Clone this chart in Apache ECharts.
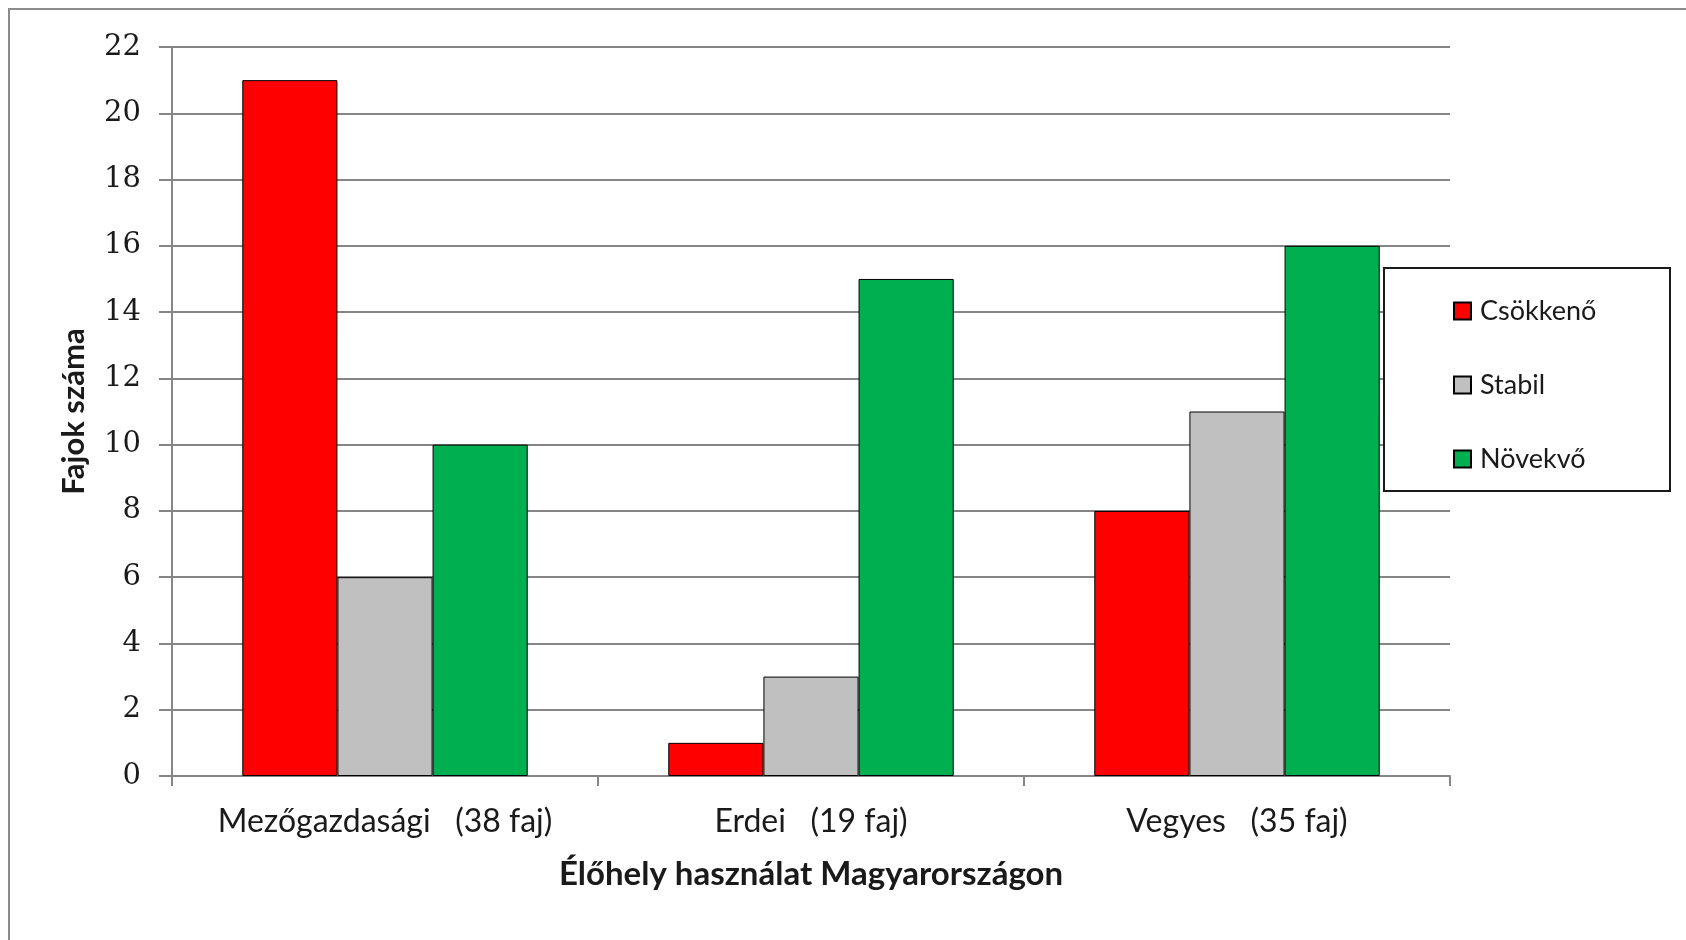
<!DOCTYPE html>
<html>
<head>
<meta charset="utf-8">
<script src="https://cdn.jsdelivr.net/npm/echarts@6/dist/echarts.min.js"></script>
<style>
  html, body { margin: 0; padding: 0; background: #ffffff; }
  #chart { width: 1686px; height: 940px; }
</style>
</head>
<body>
<div id="chart"></div>
<script>
// Habitat use categories and species counts per population trend
const categories = ['Mezőgazdasági   (38 faj)', 'Erdei   (19 faj)', 'Vegyes   (35 faj)'];
const seriesNames = ['Csökkenő', 'Stabil', 'Növekvő'];
const decreasing = [21, 1, 8];
const stable = [6, 3, 11];
const increasing = [10, 15, 16];
const yTicks = { min: 0, max: 22, step: 2 };

const sans = 'Lato, "Noto Sans", sans-serif';
const serif = '"DejaVu Serif", "Liberation Serif", serif';
const colors = ['#ff0000', '#c0c0c0', '#00b050'];

function barSeries(name, data, color) {
  return {
    name: name,
    type: 'bar',
    data: data,
    barGap: '0%',
    barCategoryGap: '33%',
    itemStyle: { color: color, borderColor: '#000000', borderWidth: 1 },
    emphasis: { disabled: true }
  };
}

const chart = echarts.init(document.getElementById('chart'), null, { renderer: 'canvas' });
chart.setOption({
  animation: false,
  backgroundColor: '#ffffff',
  graphic: [
    {
      type: 'rect',
      shape: { x: 9, y: 9, width: 1720, height: 980 },
      style: { fill: 'none', stroke: '#8c8c8c', lineWidth: 2 },
      z: 0
    },
    {
      type: 'rect',
      shape: { x: 1384, y: 268, width: 286, height: 223 },
      style: { fill: '#ffffff', stroke: '#1a1a1a', lineWidth: 2 },
      z: 5
    }
  ],
  legend: {
    orient: 'vertical',
    left: 1448,
    top: 291,
    itemWidth: 17,
    itemHeight: 17,
    itemGap: 44,
    icon: 'rect',
    z: 10,
    textStyle: { fontFamily: sans, fontSize: 27, color: '#1a1a1a', padding: [0, 0, 0, 4], lineHeight: 30 },
    data: seriesNames
  },
  grid: { left: 172, right: 236, top: 47, bottom: 164, containLabel: false },
  xAxis: {
    type: 'category',
    data: categories,
    name: 'Élőhely használat Magyarországon',
    nameLocation: 'middle',
    nameGap: 82,
    nameTextStyle: { fontFamily: sans, fontSize: 33, fontWeight: 'bold', color: '#1a1a1a' },
    axisLine: { show: true, lineStyle: { color: '#868686', width: 2 } },
    axisTick: { show: true, alignWithLabel: false, interval: 0, length: 10, lineStyle: { color: '#868686', width: 2 } },
    axisLabel: { fontFamily: sans, fontSize: 32, color: '#1a1a1a', margin: 30, interval: 0, hideOverlap: false },
    splitLine: { show: false }
  },
  yAxis: {
    type: 'value',
    min: yTicks.min,
    max: yTicks.max,
    interval: yTicks.step,
    name: 'Fajok száma',
    nameLocation: 'middle',
    nameGap: 83,
    nameTextStyle: { fontFamily: sans, fontSize: 31, fontWeight: 'bold', color: '#1a1a1a' },
    axisLine: { show: true, lineStyle: { color: '#868686', width: 2 } },
    axisTick: { show: true, inside: false, length: 13, lineStyle: { color: '#868686', width: 2 } },
    axisLabel: { fontFamily: serif, fontSize: 29, color: '#1a1a1a', margin: 31 },
    splitLine: { show: true, lineStyle: { color: '#868686', width: 2 } }
  },
  series: [
    barSeries(seriesNames[0], decreasing, colors[0]),
    barSeries(seriesNames[1], stable, colors[1]),
    barSeries(seriesNames[2], increasing, colors[2])
  ]
});
</script>
</body>
</html>
